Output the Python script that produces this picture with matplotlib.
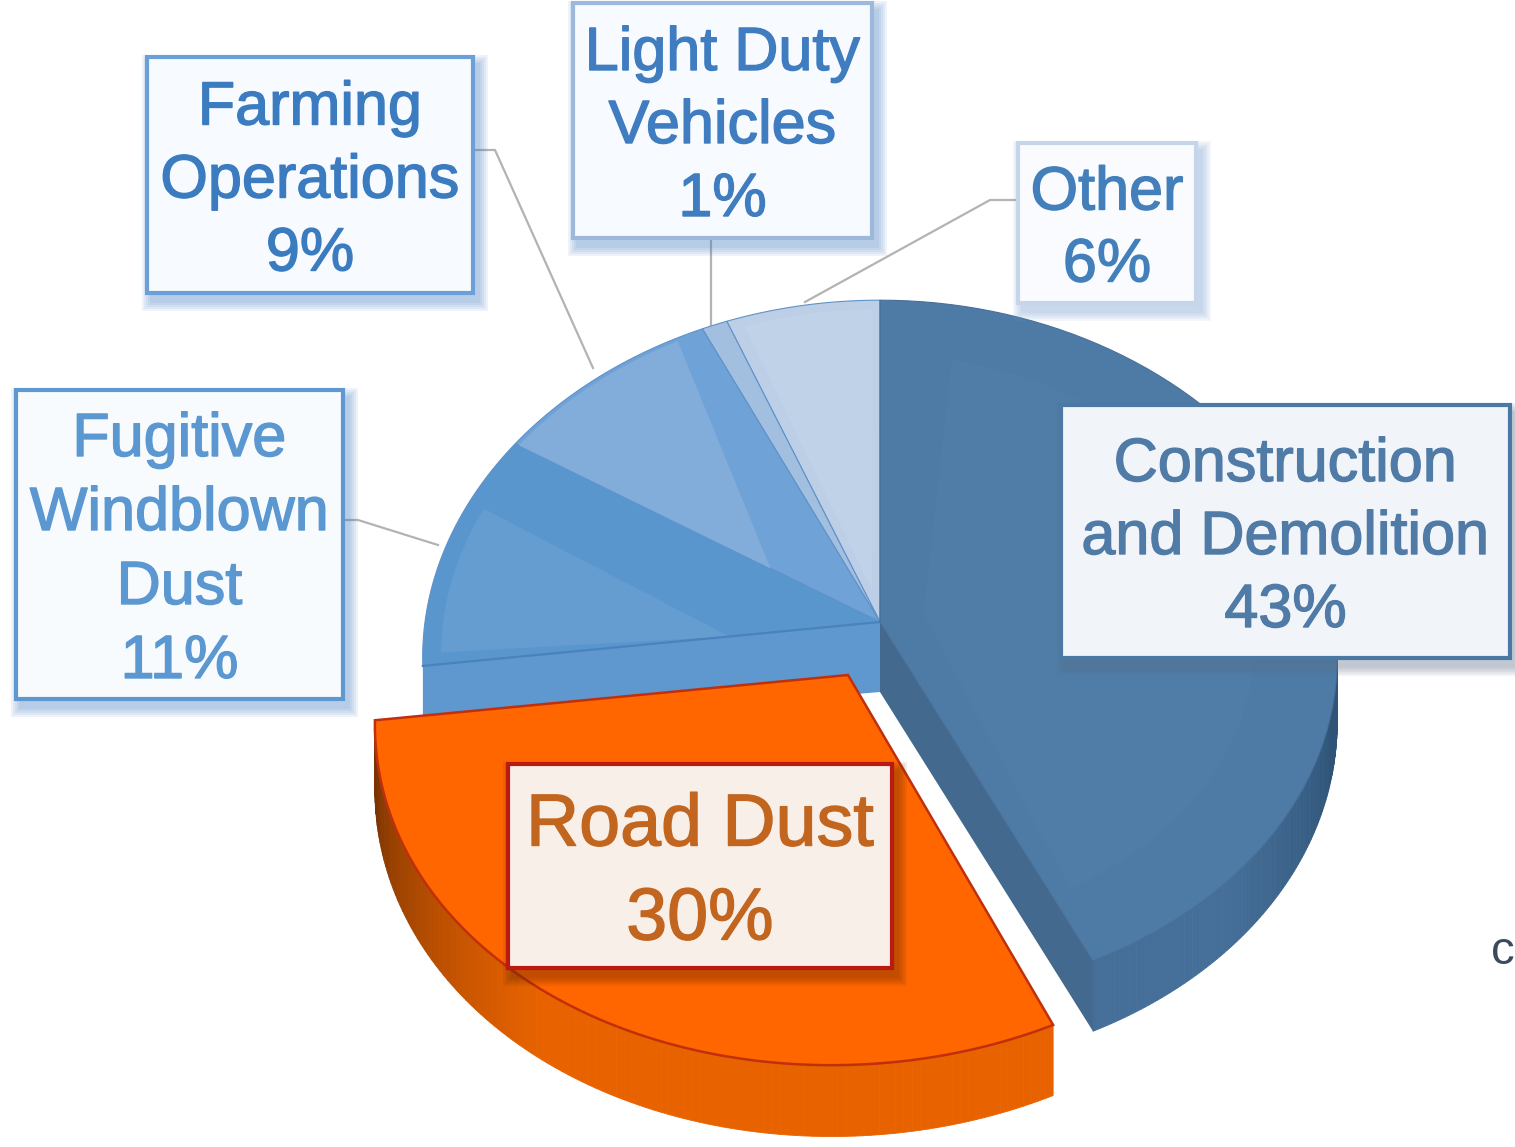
# Third-party imports
import numpy as np
import matplotlib
matplotlib.use("Agg")
import matplotlib.pyplot as plt
import matplotlib.patheffects as pe
from matplotlib.patches import Rectangle

# Data, clockwise from 12 o'clock
categories = ["Construction\nand Demolition", "Road Dust", "Fugitive\nWindblown\nDust",
              "Farming\nOperations", "Light Duty\nVehicles", "Other"]
values = [43, 30, 11, 9, 1, 6]

# Pie geometry in pixels
cx, cy = 880, 622
rx = 455
ry_back, ry_front = 354, 340
persp = 0.10
depth = 64
explode = (-32, 53)
explode_scale = 1.03
road_skew = 16

# Styles, same order as categories
top_colors = ["#4e7ba6", "#ff6600", "#5a96ce", "#6fa2d6", "#a3bfe0", "#bccfe6"]
facet_colors = ["#507da7", "#ff6600", "#669dd1", "#82acda", "#a9c4e3", "#c0d2e7"]
text_colors = ["#4f7ba6", "#c2651f", "#5b97d0", "#3b7bc0", "#3f7cc0", "#4380bb"]
edge_colors = ["#4c79a4", "#bb1a12", "#5f98d0", "#6a9fd8", "#9db8dc", "#c6d6ea"]
box_fills = ["#f1f4f8", "#f8efe9", "#f8fbfe", "#f7fafe", "#f7fafe", "#f9fbfe"]
shadow_colors = ["#5a6f85", "#5a2500", "#3d7cc4", "#3d7cc4", "#3d7cc4", "#6d97cc"]
font_sizes = [44, 53, 44, 44, 44, 44]
line_gaps = [73, 94, 74, 73, 73, 72]
# x0, y0, x1, y1
boxes = [(1061, 405, 1510, 658), (508, 764, 892, 968), (16, 390, 343, 699),
         (147, 57, 473, 293), (573, 3, 872, 238), (1018, 143, 1196, 303)]
# facet: apex position across the slice, apex radius, arc radius, trim at start, trim at end (degrees)
facets = [(0.5, 0.10, 0.82, 12, 3), None, (0.0, 0.33, 0.96, 2, 12), (0.0, 0.30, 0.99, 0, 4),
          None, (0.5, 0.10, 0.97, 2, 1)]
leaders = [([343, 358, 438], [520, 520, 545]), ([473, 495, 593], [150, 150, 368]),
           ([711, 711], [238, 325]), ([1018, 990, 805], [200, 200, 302])]


def project(t, scale=1.0, drop=0.0, off=(0, 0), skew=0.0):
    # t in degrees clockwise from the top of the pie
    t = np.radians(t)
    x = np.sin(t) * scale
    z = -np.cos(t) * scale
    s = 1.0 / (1.0 - persp * z)
    ry = (ry_back + ry_front) / 2 + (ry_front - ry_back) / 2 * z
    return cx + off[0] + rx * x * s - skew * np.maximum(z, 0), cy + off[1] + ry * z * s + drop * s


def arc(t0, t1, scale=1.0, off=(0, 0), drop=0.0, skew=0.0):
    ts = np.linspace(t0, t1, 80)
    return project(ts, scale, drop, off, skew)


def mix(c0, c1, f):
    a = np.array(matplotlib.colors.to_rgb(c0))
    b = np.array(matplotlib.colors.to_rgb(c1))
    return tuple(a + (b - a) * f)


def draw_side(ax, t0, t1, c0, c1, cut, scale=1.0, off=(0, 0), z=2, skew=0.0):
    # outer wall as narrow quads, colour moves from c0 to c1 up to angle cut
    ts = np.linspace(t0, t1, 120)
    for a, b in zip(ts[:-1], ts[1:]):
        xa, ya = project(a, scale, 0, off, skew)
        xb, yb = project(b, scale, 0, off, skew)
        xc, yc = project(b, scale, depth, off, skew)
        xd, yd = project(a, scale, depth, off, skew)
        f = np.clip((a - cut[0]) / (cut[1] - cut[0]), 0, 1)
        ax.fill([xa, xb, xc, xd], [ya, yb, yc, yd], color=mix(c0, c1, f), lw=0.6, zorder=z)


def draw_top(ax, t0, t1, col, edge, scale=1.0, off=(0, 0), z=3, lw=1.0, skew=0.0):
    xs, ys = arc(t0, t1, scale, off, 0.0, skew)
    ax.fill(np.r_[cx + off[0], xs], np.r_[cy + off[1], ys], facecolor=col, edgecolor=edge, lw=lw, zorder=z)


def draw_facet(ax, t0, t1, facet, col, z=3.5):
    across, apex, frac, trim0, trim1 = facet
    px, py = project(t0 + (t1 - t0) * across)
    ap_x = cx + (px - cx) * apex
    ap_y = cy + (py - cy) * apex
    xs, ys = arc(t0 + trim0, t1 - trim1, frac)
    ax.fill(np.r_[ap_x, xs], np.r_[ap_y, ys], color=col, lw=0, zorder=z)


# Slice angles
angles = np.r_[0, np.cumsum(values)] * 3.6
starts = angles[:-1]
ends = angles[1:]

fig = plt.figure(figsize=(15.15, 11.47), dpi=100)
ax = fig.add_axes([0, 0, 1, 1])
ax.set_xlim(0, 1515)
ax.set_ylim(1147, 0)
ax.axis("off")

# Leader lines
for lx, ly in leaders:
    ax.plot(lx, ly, color="#b3b3b3", lw=1.6, zorder=1)

# Back slices
for i in [5, 4, 3, 2]:
    draw_top(ax, starts[i], ends[i], top_colors[i], "#5f92c8", lw=0.8)
    if facets[i] is not None:
        draw_facet(ax, starts[i], ends[i], facets[i], facet_colors[i])

# Cut wall of the fugitive slice, seen through the exploded gap
x_cut, y_cut = project(ends[1])
x_low, y_low = project(ends[1], 1.0, depth)
ax.fill([cx, x_cut, x_low, cx], [cy, y_cut, y_low, cy + 70], color="#5f97cf", lw=0, zorder=3.6)
ax.plot([cx, x_cut], [cy, y_cut], color="#4a82bc", lw=1.6, zorder=3.7)

# Construction slice
draw_side(ax, 85, ends[0], "#2f5478", "#456f99", (105, 135), z=4)
x_end, y_end = project(ends[0])
x_end2, y_end2 = project(ends[0], 1.0, depth)
ax.fill([cx, x_end, x_end2, cx], [cy, y_end, y_end2, cy + 70], color="#43698f", lw=0, zorder=4.1)
draw_top(ax, starts[0], ends[0], top_colors[0], "#486f98", z=4.2, lw=0.8)
draw_facet(ax, starts[0], ends[0], facets[0], facet_colors[0], z=4.3)

# Exploded road dust slice
draw_side(ax, starts[1], ends[1], "#e86300", "#7a3300", (215, 258), explode_scale, explode, z=5, skew=road_skew)
draw_top(ax, starts[1], ends[1], top_colors[1], "#c0300c", explode_scale, explode, z=5.2, lw=1.8, skew=road_skew)

# Label boxes with soft shadows
for name, val, box, ec, fc, sc, tc, fs, gap in zip(categories, values, boxes, edge_colors,
                                                   box_fills, shadow_colors, text_colors,
                                                   font_sizes, line_gaps):
    x0, y0, x1, y1 = box
    for grow in np.arange(10, 0, -2):
        ax.add_patch(Rectangle((x0 + 5 - grow, y0 + 8 - grow), x1 - x0 + 2 * grow, y1 - y0 + 2 * grow,
                               facecolor=sc, edgecolor="none", alpha=0.085, zorder=6))
    ax.add_patch(Rectangle((x0, y0), x1 - x0, y1 - y0, facecolor=fc, edgecolor=ec, lw=3.0, zorder=7))
    lines = name.split("\n") + ["%d%%" % val]
    ym = (y0 + y1) / 2 + 7
    for j, line in enumerate(lines):
        ax.text((x0 + x1) / 2, ym + (j - (len(lines) - 1) / 2) * gap, line, color=tc, fontsize=fs,
                family="Liberation Sans", ha="center", va="center", zorder=8,
                path_effects=[pe.withStroke(linewidth=1.0, foreground=tc)])

# Letter on the right edge of the source picture
ax.text(1491, 952, "c", color="#3c4a5c", fontsize=34, family="Liberation Sans", va="center", ha="left", zorder=8)

fig.savefig("out.png", dpi=100)
